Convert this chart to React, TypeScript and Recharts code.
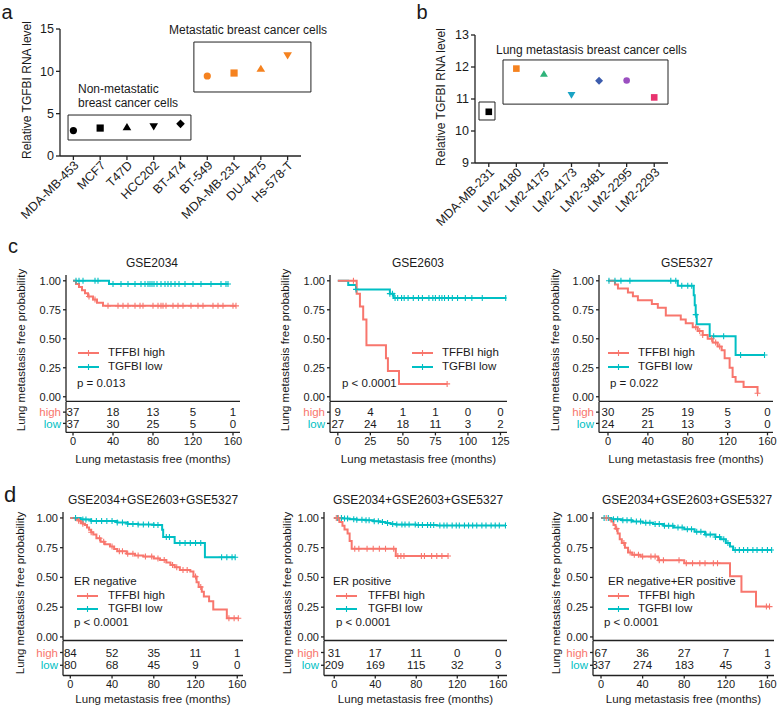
import React from "react";
import { ComposedChart, ScatterChart, Scatter, Line, XAxis, YAxis, ReferenceArea } from "recharts";

const FONT = '"Liberation Sans", Arial, sans-serif';
const RED = "#F8766D";
const CYAN = "#00BFC4";
const INK = "#1a1a1a";

// ---- panel a: cell lines
const aCells = ["MDA-MB-453", "MCF7", "T47D", "HCC202", "BT-474", "BT-549", "MDA-MB-231", "DU-4475", "Hs-578-T"];
const aLevels = [3.0, 3.3, 3.4, 3.5, 3.8, 9.45, 9.8, 10.3, 11.9];
const aTicks = [0, 5, 10, 15];
const aShapes = ["circle", "square", "up", "down", "diamond", "circle", "square", "up", "down"];
const aColors = ["#000", "#000", "#000", "#000", "#000", "#F5821F", "#F5821F", "#F5821F", "#F5821F"];

// ---- panel b: LM2 sublines
const bCells = ["MDA-MB-231", "LM2-4180", "LM2-4175", "LM2-4173", "LM2-3481", "LM2-2295", "LM2-2293"];
const bLevels = [10.6, 11.95, 11.78, 11.13, 11.57, 11.58, 11.05];
const bTicks = [9, 10, 11, 12, 13];
const bShapes = ["square", "square", "up", "down", "diamond", "circle", "square"];
const bColors = ["#000", "#F5821F", "#2FB37A", "#1AA3C4", "#3C5CAD", "#9B4FC0", "#E8336E"];

// ---- KM curves: [months, survival]
const c1High = [[0, 1], [3, 0.973], [6, 0.946], [9, 0.919], [12, 0.892], [15, 0.865], [20, 0.838], [24, 0.811], [30, 0.784], [163, 0.784]];
const c1Low = [[0, 1], [36, 0.973], [155, 0.973]];
const c1HighCens = [16, 22, 35, 45, 50, 55, 62, 67, 70, 80, 85, 88, 90, 93, 100, 105, 110, 118, 125, 130, 140, 145, 150, 160, 163];
const c1LowCens = [3, 6, 10, 22, 25, 40, 48, 55, 62, 68, 72, 75, 77, 79, 81, 84, 88, 92, 95, 98, 102, 106, 112, 120, 128, 138, 148, 153, 155];

const c2High = [[0, 1], [14.5, 0.889], [17, 0.778], [19.5, 0.667], [22, 0.444], [37, 0.333], [38.5, 0.222], [47, 0.111], [84, 0.111]];
const c2Low = [[0, 1], [8, 0.963], [14, 0.926], [40, 0.889], [43, 0.852], [129, 0.852]];
const c2HighCens = [12, 84];
const c2LowCens = [14, 40, 42, 44, 46, 49, 51, 54, 58, 62, 65, 70, 73, 75, 78, 80, 82, 85, 88, 92, 98, 103, 111, 129];

const c3High = [[0, 1], [7, 0.967], [10, 0.933], [20, 0.9], [25, 0.867], [30, 0.833], [44, 0.8], [50, 0.767], [58, 0.7], [73, 0.667], [78, 0.633], [85, 0.6], [90, 0.567], [95, 0.533], [100, 0.5], [105, 0.467], [110, 0.433], [114, 0.4], [117, 0.333], [122, 0.25], [125, 0.17], [128, 0.13], [136, 0.085], [150, 0.03]];
const c3Low = [[0, 1], [70, 0.958], [86, 0.875], [87, 0.79], [88, 0.708], [89, 0.625], [102, 0.521], [128, 0.36], [157, 0.36]];
const c3HighCens = [88, 92, 95, 104, 108, 112, 150];
const c3LowCens = [1, 7, 13, 22, 63, 68, 74, 80, 84, 88, 106, 116, 133, 157];

const d1High = [[0, 1], [5, 0.988], [8, 0.976], [10, 0.964], [12, 0.952], [14, 0.94], [16, 0.92], [18, 0.9], [20, 0.88], [22, 0.86], [25, 0.83], [29, 0.8], [33, 0.78], [38, 0.76], [42, 0.74], [45, 0.72], [54, 0.7], [62, 0.685], [70, 0.675], [80, 0.66], [86, 0.647], [92, 0.625], [96, 0.605], [100, 0.585], [105, 0.563], [115, 0.55], [118, 0.507], [121, 0.46], [123, 0.42], [126, 0.38], [128, 0.34], [133, 0.3], [137, 0.23], [150, 0.157], [161, 0.157]];
const d1Low = [[0, 1], [10, 0.988], [20, 0.975], [45, 0.962], [55, 0.95], [65, 0.945], [80, 0.94], [88, 0.9], [89, 0.84], [100, 0.79], [129, 0.67], [158, 0.67]];
const d1HighCens = [8, 12, 20, 28, 32, 40, 47, 50, 55, 60, 65, 72, 78, 84, 90, 98, 102, 108, 112, 120, 125, 152, 157, 161];
const d1LowCens = [5, 12, 15, 20, 25, 30, 35, 40, 45, 50, 55, 60, 65, 70, 75, 80, 84, 92, 95, 105, 110, 115, 120, 125, 145, 150, 155, 158];

const d2High = [[0, 1], [5, 0.967], [8, 0.935], [10, 0.903], [13, 0.87], [15, 0.806], [17, 0.742], [60, 0.68], [111, 0.68]];
const d2Low = [[0, 1], [8, 0.995], [15, 0.99], [22, 0.985], [30, 0.98], [38, 0.972], [45, 0.965], [50, 0.958], [55, 0.95], [60, 0.944], [80, 0.94], [100, 0.936], [167, 0.936]];
const d2HighCens = [2, 4, 20, 24, 32, 38, 44, 50, 58, 62, 65, 68, 85, 88, 95, 100, 105, 111];
const d2LowCens = [3, 7, 10, 13, 19, 22, 27, 31, 34, 39, 43, 47, 52, 57, 61, 66, 69, 73, 79, 82, 86, 91, 94, 97, 103, 107, 110, 115, 119, 122, 127, 131, 135, 139, 144, 148, 153, 157, 161, 167];

const d3High = [[0, 1], [8, 0.985], [10, 0.97], [12, 0.94], [14, 0.91], [16, 0.87], [18, 0.82], [20, 0.79], [23, 0.75], [26, 0.71], [30, 0.69], [38, 0.675], [55, 0.645], [80, 0.62], [124, 0.51], [135, 0.38], [149, 0.255], [162, 0.255]];
const d3Low = [[0, 1], [10, 0.99], [20, 0.98], [30, 0.97], [40, 0.96], [50, 0.95], [60, 0.935], [70, 0.92], [80, 0.905], [90, 0.885], [100, 0.86], [110, 0.84], [115, 0.82], [120, 0.79], [124, 0.76], [127, 0.73], [164, 0.73]];
const d3HighCens = [5, 15, 22, 28, 32, 36, 40, 48, 52, 56, 60, 75, 82, 88, 95, 100, 108, 112, 159, 162];
const d3LowCens = [3, 7, 12, 16, 21, 25, 29, 34, 38, 43, 47, 52, 56, 61, 65, 69, 74, 78, 83, 87, 92, 96, 101, 105, 110, 114, 118, 122, 129, 133, 137, 141, 146, 150, 155, 160, 164];

// ---- numbers at risk
const ticks160 = [0, 40, 80, 120, 160];
const ticks125 = [0, 25, 50, 75, 100, 125];
const c1RiskHigh = [37, 18, 13, 5, 1];
const c1RiskLow = [37, 30, 25, 5, 0];
const c2RiskHigh = [9, 4, 1, 1, 0, 0];
const c2RiskLow = [27, 24, 18, 11, 3, 2];
const c3RiskHigh = [30, 25, 19, 5, 0];
const c3RiskLow = [24, 21, 13, 3, 0];
const d1RiskHigh = [84, 52, 35, 11, 1];
const d1RiskLow = [80, 68, 45, 9, 0];
const d2RiskHigh = [31, 17, 11, 0, 0];
const d2RiskLow = [209, 169, 115, 32, 3];
const d3RiskHigh = [67, 36, 27, 7, 1];
const d3RiskLow = [337, 274, 183, 45, 3];

const survTicks = [0, 0.25, 0.5, 0.75, 1];

const toSteps = (pts: number[][]) => pts.map(([t, s]) => ({ t, s }));
const levelAt = (pts: number[][], t: number) => {
  let s = pts[0][1];
  for (const [tt, ss] of pts) if (tt <= t) s = ss;
  return s;
};
const toCens = (pts: number[][], times: number[]) => times.map((t) => ({ t, s: levelAt(pts, t) }));

function Txt({ x, y, children, size = 11.5, color = INK, anchor = "middle", rotate = 0 }: any) {
  const tx = anchor === "middle" ? "-50%" : anchor === "end" ? "-100%" : "0";
  return (
    <div
      style={{
        position: "absolute", left: x, top: y, fontFamily: FONT, fontSize: size, color, lineHeight: 1,
        whiteSpace: "nowrap", transform: `translate(${tx},-50%) rotate(${rotate}deg)`,
      }}
    >
      {children}
    </div>
  );
}

function marker(kind: string, color: string, cx: number, cy: number, r: number) {
  if (kind === "circle") return <circle cx={cx} cy={cy} r={r} fill={color} />;
  if (kind === "square") return <rect x={cx - r} y={cy - r} width={2 * r} height={2 * r} fill={color} />;
  if (kind === "up") return <path d={`M${cx},${cy - r * 1.15}L${cx + r * 1.2},${cy + r * 0.85}L${cx - r * 1.2},${cy + r * 0.85}Z`} fill={color} />;
  if (kind === "down") return <path d={`M${cx},${cy + r * 1.15}L${cx + r * 1.2},${cy - r * 0.85}L${cx - r * 1.2},${cy - r * 0.85}Z`} fill={color} />;
  return <path d={`M${cx},${cy - r * 1.2}L${cx + r * 1.2},${cy}L${cx},${cy + r * 1.2}L${cx - r * 1.2},${cy}Z`} fill={color} />;
}

const RotTick = ({ x, y, payload, names }: any) => (
  <text
    x={x + 3} y={y + 1} transform={`rotate(-45 ${x + 3} ${y + 1})`} textAnchor="end" dy="0.35em"
    fontSize={12.5} fontFamily={FONT} fill={INK}
  >
    {names[payload.value]}
  </text>
);

function Dot(props: any) {
  const { cx, cy, payload } = props;
  return marker(payload.shape, payload.color, cx, cy, payload.r);
}

const axisStyle = { stroke: "#222", strokeWidth: 1.3 };
const tickFont = { fontSize: 11, fontFamily: FONT, fill: INK };
const bigTickFont = { fontSize: 12.5, fontFamily: FONT, fill: INK };

function PanelA() {
  const data = aCells.map((c, i) => ({ x: i, y: aLevels[i], shape: aShapes[i], color: aColors[i], r: 3.6 }));
  return (
    <div style={{ position: "absolute", left: 0, top: 0 }}>
      <ScatterChart width={320} height={232} margin={{ top: 29, right: 19, bottom: 0, left: 0 }}>
        <XAxis type="number" dataKey="x" domain={[-0.5, aCells.length - 0.5]} allowDataOverflow ticks={aCells.map((_, i) => i)} interval={0}
          height={76} tickSize={4} tick={<RotTick names={aCells} />} axisLine={axisStyle} tickLine={axisStyle} />
        <YAxis type="number" dataKey="y" domain={[0, 15]} allowDataOverflow ticks={aTicks} interval={0} width={60} tickSize={4}
          tick={bigTickFont} axisLine={axisStyle} tickLine={axisStyle} />
        <ReferenceArea x1={-0.2} x2={4.39} y1={1.89} y2={4.84} fill="none" fillOpacity={0} stroke="#222" strokeWidth={1} ifOverflow="visible" />
        <ReferenceArea x1={4.5} x2={8.87} y1={7.56} y2={13.46} fill="none" fillOpacity={0} stroke="#222" strokeWidth={1} ifOverflow="visible" />
        <Scatter data={data} shape={<Dot />} isAnimationActive={false} />
      </ScatterChart>
    </div>
  );
}

function PanelB() {
  const data = bCells.map((c, i) => ({ x: i, y: bLevels[i], shape: bShapes[i], color: bColors[i], r: 3.3 }));
  return (
    <div style={{ position: "absolute", left: 380, top: 0 }}>
      <ScatterChart width={300} height={232} margin={{ top: 35, right: 12, bottom: 0, left: 0 }}>
        <XAxis type="number" dataKey="x" domain={[-0.5, bCells.length - 0.5]} allowDataOverflow ticks={bCells.map((_, i) => i)} interval={0}
          height={69} tickSize={4} tick={<RotTick names={bCells} />} axisLine={axisStyle} tickLine={axisStyle} />
        <YAxis type="number" dataKey="y" domain={[9, 13]} allowDataOverflow ticks={bTicks} interval={0} width={95} tickSize={4}
          tick={bigTickFont} axisLine={axisStyle} tickLine={axisStyle} />
        <ReferenceArea x1={-0.355} x2={0.225} y1={10.344} y2={10.906} fill="none" fillOpacity={0} stroke="#222" strokeWidth={1} ifOverflow="visible" />
        <ReferenceArea x1={0.516} x2={6.5} y1={10.84} y2={12.22} fill="none" fillOpacity={0} stroke="#222" strokeWidth={1} ifOverflow="visible" />
        <Scatter data={data} shape={<Dot />} isAnimationActive={false} />
      </ScatterChart>
    </div>
  );
}

const crossDot = (color: string) => (props: any) => {
  const { cx, cy, index } = props;
  return <path key={index} d={`M${cx - 3},${cy}h6M${cx},${cy - 3}v6`} stroke={color} strokeWidth={1.1} fill="none" />;
};

const riskDot = (props: any) => {
  const { cx, cy, index, payload } = props;
  return (
    <text key={index} x={cx} y={cy} dy="0.36em" textAnchor="middle" fontSize={11.5} fontFamily={FONT} fill={INK}>
      {payload.n}
    </text>
  );
};

const RiskTick = ({ x, y, payload }: any) => (
  <text x={x} y={y} dy="0.36em" textAnchor="end" fontSize={11.5} fontFamily={FONT} fill={payload.value === 2 ? RED : CYAN}>
    {payload.value === 2 ? "high" : "low"}
  </text>
);

function LegendKey({ x, y, color }: any) {
  return (
    <svg style={{ position: "absolute", left: x, top: y - 5 }} width={22} height={10}>
      <line x1={0} y1={5} x2={21} y2={5} stroke={color} strokeWidth={2} />
      <path d="M10.5,2v6M7.5,5h6" stroke={color} strokeWidth={1.1} />
    </svg>
  );
}

const rowC = { top: 275.2, mainBot: 401.6, riskBot: 432, yDom: [-0.04, 1.05], titleY: 263, xTitleY: 460, erY: 0, legY: 353, legY2: 367, pY: 384, yTitleY: 350 };
const rowD = { top: 512, mainBot: 640.5, riskBot: 675, yDom: [-0.03, 1.05], titleY: 500, xTitleY: 700, erY: 582, legY: 596, legY2: 609, pY: 623, yTitleY: 593 };

const panels = [
  { row: rowC, ax: 66, ar: 240, xDom: [-7, 167], ticks: ticks160, titleX: 152, legX: 78, textX: 108, pX: 77, erX: 0, yTitleX: 22,
    title: "GSE2034", er: "", p: "p = 0.013", high: c1High, low: c1Low, highCens: c1HighCens, lowCens: c1LowCens, riskHigh: c1RiskHigh, riskLow: c1RiskLow },
  { row: rowC, ax: 330, ar: 507, xDom: [-6, 130], ticks: ticks125, titleX: 418, legX: 412, textX: 442, pX: 342, erX: 0, yTitleX: 286,
    title: "GSE2603", er: "", p: "p < 0.0001", high: c2High, low: c2Low, highCens: c2HighCens, lowCens: c2LowCens, riskHigh: c2RiskHigh, riskLow: c2RiskLow },
  { row: rowC, ax: 599, ar: 773, xDom: [-9, 165.5], ticks: ticks160, titleX: 687, legX: 608, textX: 638, pX: 610, erX: 0, yTitleX: 556,
    title: "GSE5327", er: "", p: "p = 0.022", high: c3High, low: c3Low, highCens: c3HighCens, lowCens: c3LowCens, riskHigh: c3RiskHigh, riskLow: c3RiskLow },
  { row: rowD, ax: 63, ar: 243, xDom: [-7, 165.5], ticks: ticks160, titleX: 153, legX: 77, textX: 108, pX: 74, erX: 74, yTitleX: 21,
    title: "GSE2034+GSE2603+GSE5327", er: "ER negative", p: "p < 0.0001", high: d1High, low: d1Low, highCens: d1HighCens, lowCens: d1LowCens, riskHigh: d1RiskHigh, riskLow: d1RiskLow },
  { row: rowD, ax: 324, ar: 507, xDom: [-10, 168.5], ticks: ticks160, titleX: 418, legX: 336, textX: 368, pX: 336, erX: 333, yTitleX: 288,
    title: "GSE2034+GSE2603+GSE5327", er: "ER positive", p: "p < 0.0001", high: d2High, low: d2Low, highCens: d2HighCens, lowCens: d2LowCens, riskHigh: d2RiskHigh, riskLow: d2RiskLow },
  { row: rowD, ax: 593, ar: 774, xDom: [-7.7, 166.3], ticks: ticks160, titleX: 687, legX: 608, textX: 638, pX: 604, erX: 608, yTitleX: 557,
    title: "GSE2034+GSE2603+GSE5327", er: "ER negative+ER positive", p: "p < 0.0001", high: d3High, low: d3Low, highCens: d3HighCens, lowCens: d3LowCens, riskHigh: d3RiskHigh, riskLow: d3RiskLow },
];

const YW = 45;

function KMPanel({ p }: any) {
  const r = p.row;
  const w = YW + (p.ar - p.ax) + 8;
  const riskH = p.ticks.map((t: number, i: number) => ({ t, row: 2, n: p.riskHigh[i] }));
  const riskL = p.ticks.map((t: number, i: number) => ({ t, row: 1, n: p.riskLow[i] }));
  return (
    <>
      <div style={{ position: "absolute", left: p.ax - YW, top: r.top }}>
        <ComposedChart width={w} height={r.mainBot - r.top + 1} margin={{ top: 0, right: 8, bottom: 0, left: 0 }}>
          <XAxis type="number" dataKey="t" domain={p.xDom} allowDataOverflow ticks={p.ticks} tick={false} tickLine={false} height={1} axisLine={axisStyle} />
          <YAxis type="number" domain={r.yDom} allowDataOverflow ticks={survTicks} interval={0} width={YW} tickSize={3}
            tickFormatter={(v: number) => v.toFixed(2)} tick={tickFont} axisLine={axisStyle} tickLine={axisStyle} />
          <Line data={toSteps(p.low)} dataKey="s" type="stepAfter" stroke={CYAN} strokeWidth={2} dot={false} isAnimationActive={false} />
          <Line data={toSteps(p.high)} dataKey="s" type="stepAfter" stroke={RED} strokeWidth={2} dot={false} isAnimationActive={false} />
          <Line data={toCens(p.low, p.lowCens)} dataKey="s" stroke="none" dot={crossDot(CYAN)} isAnimationActive={false} />
          <Line data={toCens(p.high, p.highCens)} dataKey="s" stroke="none" dot={crossDot(RED)} isAnimationActive={false} />
        </ComposedChart>
      </div>
      <div style={{ position: "absolute", left: p.ax - YW, top: r.mainBot }}>
        <ComposedChart width={w} height={r.riskBot - r.mainBot + 26} margin={{ top: 0, right: 8, bottom: 0, left: 0 }}>
          <XAxis type="number" dataKey="t" domain={p.xDom} allowDataOverflow ticks={p.ticks} interval={0} height={26} tickSize={3}
            tick={tickFont} axisLine={axisStyle} tickLine={axisStyle} />
          <YAxis type="number" domain={[0.2, 2.9]} allowDataOverflow ticks={[1, 2]} interval={0} width={YW} tickSize={3}
            tick={<RiskTick />} axisLine={axisStyle} tickLine={axisStyle} />
          <Line data={riskH} dataKey="row" stroke="none" dot={riskDot} isAnimationActive={false} />
          <Line data={riskL} dataKey="row" stroke="none" dot={riskDot} isAnimationActive={false} />
        </ComposedChart>
      </div>
      <Txt x={p.titleX} y={r.titleY} size={12}>{p.title}</Txt>
      <Txt x={p.yTitleX} y={r.yTitleY} rotate={-90}>Lung metastasis free probability</Txt>
      <Txt x={(p.ax + p.ar) / 2} y={r.xTitleY}>Lung metastasis free (months)</Txt>
      {p.er ? <Txt x={p.erX} y={r.erY} anchor="start">{p.er}</Txt> : null}
      <LegendKey x={p.legX} y={r.legY} color={RED} />
      <LegendKey x={p.legX} y={r.legY2} color={CYAN} />
      <Txt x={p.textX} y={r.legY} anchor="start">TFFBI high</Txt>
      <Txt x={p.textX} y={r.legY2} anchor="start">TGFBI low</Txt>
      <Txt x={p.pX} y={r.pY} anchor="start">{p.p}</Txt>
    </>
  );
}

export default function App() {
  return (
    <div style={{ position: "absolute", left: 0, top: 0, width: 777, height: 708, background: "#fff", overflow: "hidden" }}>
      <PanelA />
      <PanelB />
      <Txt x={27} y={90} rotate={-90} size={12}>Relative TGFBI RNA level</Txt>
      <Txt x={441} y={97} rotate={-90} size={12}>Relative TGFBI RNA level</Txt>
      <Txt x={78} y={89} anchor="start" size={12}>Non-metastatic</Txt>
      <Txt x={78} y={103} anchor="start" size={12}>breast cancer cells</Txt>
      <Txt x={169} y={30} anchor="start" size={12}>Metastatic breast cancer cells</Txt>
      <Txt x={496} y={50} anchor="start" size={12}>Lung metastasis breast cancer cells</Txt>
      <Txt x={7} y={11.5} size={20}>a</Txt>
      <Txt x={422} y={11.5} size={20}>b</Txt>
      <Txt x={13} y={246} size={20}>c</Txt>
      <Txt x={10} y={495} size={22}>d</Txt>
      {panels.map((p, i) => <KMPanel key={i} p={p} />)}
    </div>
  );
}
